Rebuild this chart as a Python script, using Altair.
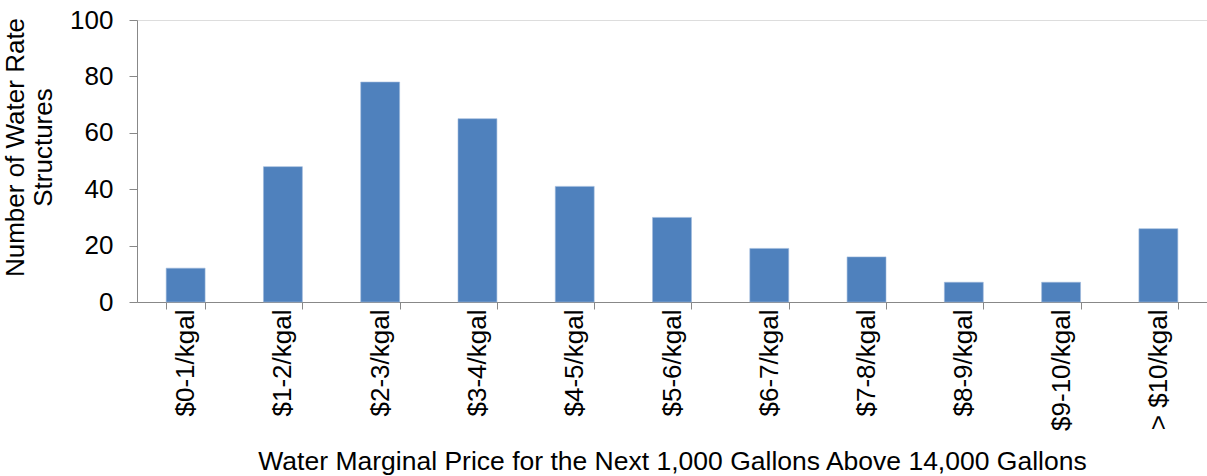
import altair as alt
import pandas as pd

categories = ["$0-1/kgal", "$1-2/kgal", "$2-3/kgal", "$3-4/kgal", "$4-5/kgal",
              "$5-6/kgal", "$6-7/kgal", "$7-8/kgal", "$8-9/kgal", "$9-10/kgal",
              "> $10/kgal"]
counts = [12, 48, 78, 65, 41, 30, 19, 16, 7, 7, 26]

df = pd.DataFrame({"price": categories, "count": counts})

FONT = "Liberation Sans"

chart = (
    alt.Chart(df)
    .mark_bar(color="#4F81BD", stroke="#9DB8DC", strokeWidth=0.6)
    .encode(
        x=alt.X(
            "price:N",
            sort=categories,
            scale=alt.Scale(paddingInner=0.6, paddingOuter=0.3),
            axis=alt.Axis(
                title="Water Marginal Price for the Next 1,000 Gallons Above 14,000 Gallons",
                titleFont=FONT, titleFontSize=26.5, titleFontWeight="normal",
                titleColor="black", titleY=159, titleBaseline="middle",
                labelAngle=-90, labelAlign="right", labelBaseline="middle",
                labelFont=FONT, labelFontSize=26, labelColor="black",
                labelPadding=0, tickSize=7, tickBand="extent",
                domainColor="#888888", tickColor="#888888",
                labelOverlap=False,
            ),
        ),
        y=alt.Y(
            "count:Q",
            scale=alt.Scale(domain=[0, 100]),
            axis=alt.Axis(
                title=["Number of Water Rate", "Structures"],
                titleFont=FONT, titleFontSize=26, titleFontWeight="normal",
                titleColor="black", titleAngle=-90, titleX=-135, titleY=127,
                titleAlign="center", titleBaseline="top", titleLineHeight=28,
                values=[0, 20, 40, 60, 80, 100],
                labelFont=FONT, labelFontSize=26, labelColor="black",
                labelPadding=16, tickSize=8, grid=False,
                domainColor="#888888", tickColor="#888888",
            ),
        ),
    )
    .properties(
        width=1070,
        height=282,
        autosize=alt.AutoSizeParams(type="none"),
        padding={"left": 137, "top": 20, "right": 0, "bottom": 174},
    )
    .configure_view(stroke=None)
    .configure(background="white")
)

chart.save("out.html", embed_options={"renderer": "svg", "actions": False})
